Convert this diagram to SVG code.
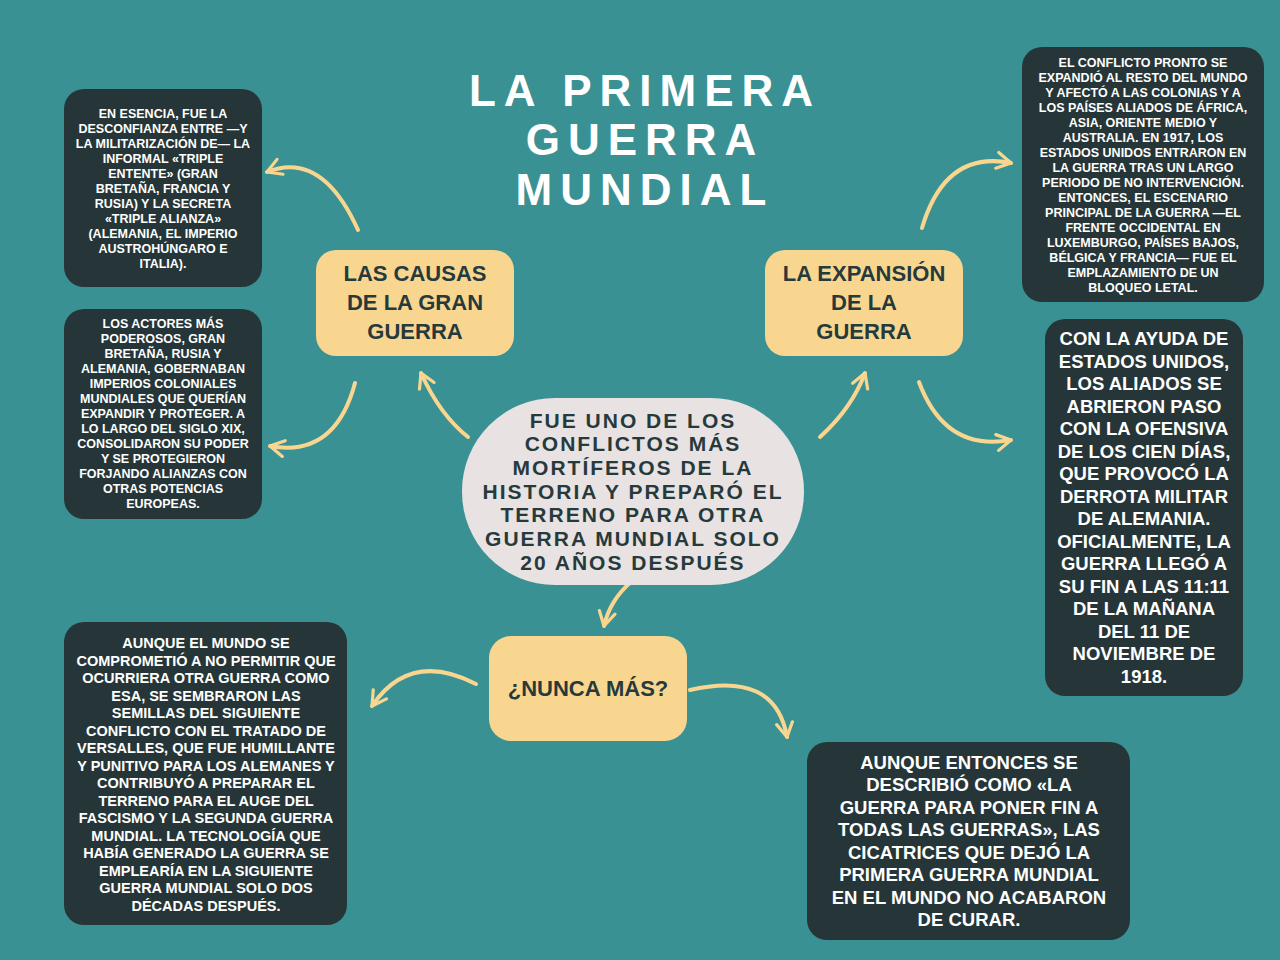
<svg xmlns="http://www.w3.org/2000/svg" width="1280" height="960" viewBox="0 0 1280 960">
<style>
text{font-family:"Liberation Sans",Arial,sans-serif;font-weight:bold;text-anchor:middle}
.d{fill:#263638}
.y{fill:#F9D690}
.w{fill:#ffffff}
.t{fill:#263A3C}
.c{fill:none;stroke:#F9D690;stroke-width:4;stroke-linecap:round;marker-end:url(#a)}
</style>
<defs><marker id="a" viewBox="0 0 10 10" refX="8" refY="5" markerWidth="5" markerHeight="5" orient="auto" markerUnits="strokeWidth"><path d="M1,1 L8,5 L1,9" fill="none" stroke="#F9D690" stroke-width="1.6" stroke-linecap="round" stroke-linejoin="round"/></marker></defs>
<rect width="1280" height="960" fill="#3A9193"/>
<g id="title" class="w" font-size="44" letter-spacing="8"><text x="645" y="106" class="w">LA PRIMERA</text><text x="645" y="155" class="w">GUERRA</text><text x="645" y="205" class="w">MUNDIAL</text></g>
<g id="connectors">
<path class="c" d="M358,230 Q322,150 267,172"/>
<path class="c" d="M355,383 Q335,458 270,446"/>
<path class="c" d="M468,437 Q440,415 421,373"/>
<path class="c" d="M820,437 Q852,408 865,373"/>
<path class="c" d="M922,228 Q945,150 1011,163"/>
<path class="c" d="M919,382 Q945,452 1011,440"/>
<path class="c" d="M631,582 Q610,600 604,626"/>
<path class="c" d="M476,684 Q410,650 372,706"/>
<path class="c" d="M690,690 Q775,670 787,737"/>
</g>
<g id="n-causas"><rect class="y" x="316" y="250" width="198" height="106" rx="20"/><g class="t" font-size="22"><text x="415" y="281" class="t">LAS CAUSAS</text><text x="415" y="310" class="t">DE LA GRAN</text><text x="415" y="339" class="t">GUERRA</text></g></g>
<g id="n-expansion"><rect class="y" x="765" y="250" width="198" height="106" rx="20"/><g font-size="22"><text x="864" y="281" class="t">LA EXPANSIÓN</text><text x="864" y="310" class="t">DE LA</text><text x="864" y="339" class="t">GUERRA</text></g></g>
<g id="n-nunca"><rect class="y" x="489" y="636" width="198" height="105" rx="22"/><text x="588" y="696" font-size="22" class="t">¿NUNCA MÁS?</text></g>
<g id="n-centro"><rect x="462" y="398" width="342" height="187" rx="93" fill="#E8E2E3"/><g font-size="21" letter-spacing="2"><text x="633" y="428" class="t">FUE UNO DE LOS</text><text x="633" y="451" class="t">CONFLICTOS MÁS</text><text x="633" y="475" class="t">MORTÍFEROS DE LA</text><text x="633" y="499" class="t">HISTORIA Y PREPARÓ EL</text><text x="633" y="522" class="t">TERRENO PARA OTRA</text><text x="633" y="546" class="t">GUERRA MUNDIAL SOLO</text><text x="633" y="570" class="t">20 AÑOS DESPUÉS</text></g></g>
<g id="n-tl"><rect class="d" x="64" y="89" width="198" height="198" rx="20"/><g font-size="12.5"><text x="163" y="118" class="w">EN ESENCIA, FUE LA</text><text x="163" y="133" class="w">DESCONFIANZA ENTRE —Y</text><text x="163" y="148" class="w">LA MILITARIZACIÓN DE— LA</text><text x="163" y="163" class="w">INFORMAL «TRIPLE</text><text x="163" y="178" class="w">ENTENTE» (GRAN</text><text x="163" y="193" class="w">BRETAÑA, FRANCIA Y</text><text x="163" y="208" class="w">RUSIA) Y LA SECRETA</text><text x="163" y="223" class="w">«TRIPLE ALIANZA»</text><text x="163" y="238" class="w">(ALEMANIA, EL IMPERIO</text><text x="163" y="253" class="w">AUSTROHÚNGARO E</text><text x="163" y="268" class="w">ITALIA).</text></g></g>
<g id="n-ml"><rect class="d" x="64" y="309" width="198" height="210" rx="20"/><g font-size="12.5"><text x="163" y="328" class="w">LOS ACTORES MÁS</text><text x="163" y="343" class="w">PODEROSOS, GRAN</text><text x="163" y="358" class="w">BRETAÑA, RUSIA Y</text><text x="163" y="373" class="w">ALEMANIA, GOBERNABAN</text><text x="163" y="388" class="w">IMPERIOS COLONIALES</text><text x="163" y="403" class="w">MUNDIALES QUE QUERÍAN</text><text x="163" y="418" class="w">EXPANDIR Y PROTEGER. A</text><text x="163" y="433" class="w">LO LARGO DEL SIGLO XIX,</text><text x="163" y="448" class="w">CONSOLIDARON SU PODER</text><text x="163" y="463" class="w">Y SE PROTEGIERON</text><text x="163" y="478" class="w">FORJANDO ALIANZAS CON</text><text x="163" y="493" class="w">OTRAS POTENCIAS</text><text x="163" y="508" class="w">EUROPEAS.</text></g></g>
<g id="n-tr"><rect class="d" x="1022" y="47" width="242" height="255" rx="20"/><g font-size="12.5"><text x="1143" y="67" class="w">EL CONFLICTO PRONTO SE</text><text x="1143" y="82" class="w">EXPANDIÓ AL RESTO DEL MUNDO</text><text x="1143" y="97" class="w">Y AFECTÓ A LAS COLONIAS Y A</text><text x="1143" y="112" class="w">LOS PAÍSES ALIADOS DE ÁFRICA,</text><text x="1143" y="127" class="w">ASIA, ORIENTE MEDIO Y</text><text x="1143" y="142" class="w">AUSTRALIA. EN 1917, LOS</text><text x="1143" y="157" class="w">ESTADOS UNIDOS ENTRARON EN</text><text x="1143" y="172" class="w">LA GUERRA TRAS UN LARGO</text><text x="1143" y="187" class="w">PERIODO DE NO INTERVENCIÓN.</text><text x="1143" y="202" class="w">ENTONCES, EL ESCENARIO</text><text x="1143" y="217" class="w">PRINCIPAL DE LA GUERRA —EL</text><text x="1143" y="232" class="w">FRENTE OCCIDENTAL EN</text><text x="1143" y="247" class="w">LUXEMBURGO, PAÍSES BAJOS,</text><text x="1143" y="262" class="w">BÉLGICA Y FRANCIA— FUE EL</text><text x="1143" y="277" class="w">EMPLAZAMIENTO DE UN</text><text x="1143" y="292" class="w">BLOQUEO LETAL.</text></g></g>
<g id="n-mr"><rect class="d" x="1045" y="319" width="198" height="377" rx="20"/><g font-size="18.5"><text x="1144" y="345" class="w">CON LA AYUDA DE</text><text x="1144" y="368" class="w">ESTADOS UNIDOS,</text><text x="1144" y="390" class="w">LOS ALIADOS SE</text><text x="1144" y="413" class="w">ABRIERON PASO</text><text x="1144" y="435" class="w">CON LA OFENSIVA</text><text x="1144" y="458" class="w">DE LOS CIEN DÍAS,</text><text x="1144" y="480" class="w">QUE PROVOCÓ LA</text><text x="1144" y="503" class="w">DERROTA MILITAR</text><text x="1144" y="525" class="w">DE ALEMANIA.</text><text x="1144" y="548" class="w">OFICIALMENTE, LA</text><text x="1144" y="570" class="w">GUERRA LLEGÓ A</text><text x="1144" y="593" class="w">SU FIN A LAS 11:11</text><text x="1144" y="615" class="w">DE LA MAÑANA</text><text x="1144" y="638" class="w">DEL 11 DE</text><text x="1144" y="660" class="w">NOVIEMBRE DE</text><text x="1144" y="683" class="w">1918.</text></g></g>
<g id="n-bl"><rect class="d" x="64" y="622" width="283" height="303" rx="20"/><g font-size="14.5"><text x="206" y="648" class="w">AUNQUE EL MUNDO SE</text><text x="206" y="666" class="w">COMPROMETIÓ A NO PERMITIR QUE</text><text x="206" y="683" class="w">OCURRIERA OTRA GUERRA COMO</text><text x="206" y="701" class="w">ESA, SE SEMBRARON LAS</text><text x="206" y="718" class="w">SEMILLAS DEL SIGUIENTE</text><text x="206" y="736" class="w">CONFLICTO CON EL TRATADO DE</text><text x="206" y="753" class="w">VERSALLES, QUE FUE HUMILLANTE</text><text x="206" y="771" class="w">Y PUNITIVO PARA LOS ALEMANES Y</text><text x="206" y="788" class="w">CONTRIBUYÓ A PREPARAR EL</text><text x="206" y="806" class="w">TERRENO PARA EL AUGE DEL</text><text x="206" y="823" class="w">FASCISMO Y LA SEGUNDA GUERRA</text><text x="206" y="841" class="w">MUNDIAL. LA TECNOLOGÍA QUE</text><text x="206" y="858" class="w">HABÍA GENERADO LA GUERRA SE</text><text x="206" y="876" class="w">EMPLEARÍA EN LA SIGUIENTE</text><text x="206" y="893" class="w">GUERRA MUNDIAL SOLO DOS</text><text x="206" y="911" class="w">DÉCADAS DESPUÉS.</text></g></g>
<g id="n-br"><rect class="d" x="807" y="742" width="323" height="198" rx="20"/><g font-size="18.5"><text x="969" y="769" class="w">AUNQUE ENTONCES SE</text><text x="969" y="791" class="w">DESCRIBIÓ COMO «LA</text><text x="969" y="814" class="w">GUERRA PARA PONER FIN A</text><text x="969" y="836" class="w">TODAS LAS GUERRAS», LAS</text><text x="969" y="859" class="w">CICATRICES QUE DEJÓ LA</text><text x="969" y="881" class="w">PRIMERA GUERRA MUNDIAL</text><text x="969" y="904" class="w">EN EL MUNDO NO ACABARON</text><text x="969" y="926" class="w">DE CURAR.</text></g></g>
</svg>
